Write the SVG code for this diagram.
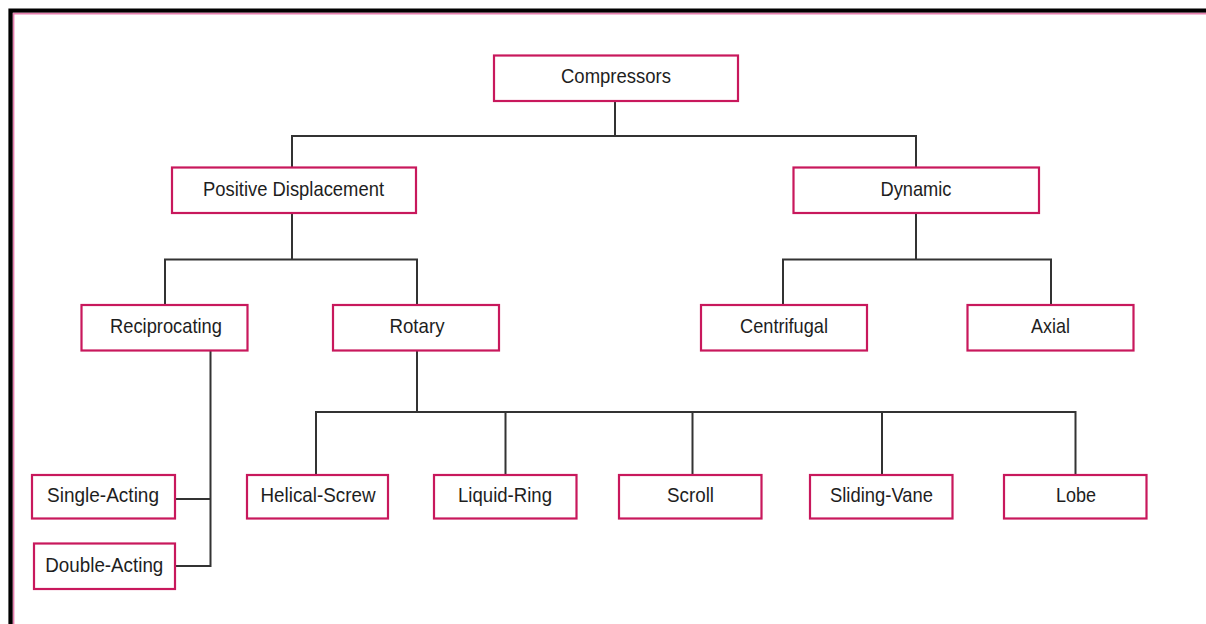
<svg xmlns="http://www.w3.org/2000/svg" width="1206" height="624" viewBox="0 0 1206 624">
<style>
.box{fill:#fff;stroke:#c8185c;stroke-width:2.2}
.lbl{font-family:"Liberation Sans",Arial,sans-serif;font-size:21px;fill:#1e1e1e;text-anchor:middle}
.con{fill:none;stroke:#333;stroke-width:2}
</style>
<rect width="1206" height="624" fill="#fff"/>
<path d="M10.6,624 V10.6 H1206" fill="none" stroke="#000" stroke-width="4.4"/>
<path d="M13.6,624 V13.6 H1206" fill="none" stroke="#e67fae" stroke-width="1.6"/>
<g id="connectors">
<path class="con" d="M615,101 V136 M292,167 V136 H916 V167"/>
<path class="con" d="M292,213 V259.5 M165,305 V259.5 H417 V305"/>
<path class="con" d="M916,213 V259.5 M783,305 V259.5 H1051 V305"/>
<path class="con" d="M210.5,351 V566 H175 M175,499 H210.5"/>
<path class="con" d="M417,351 V412 M316,475 V412 H1075.5 V475 M505.5,412 V475 M692.5,412 V475 M882,412 V475"/>
</g>
<g id="n-compressors"><rect class="box" x="494" y="55.5" width="244" height="45.5"/><text class="lbl" x="616" y="82.5" textLength="110" lengthAdjust="spacingAndGlyphs">Compressors</text></g>
<g id="n-positive"><rect class="box" x="172" y="167.5" width="244" height="45.5"/><text class="lbl" x="293.5" y="195.5" textLength="181" lengthAdjust="spacingAndGlyphs">Positive Displacement</text></g>
<g id="n-dynamic"><rect class="box" x="793.5" y="167.5" width="245.5" height="45.5"/><text class="lbl" x="916" y="195.5" textLength="71" lengthAdjust="spacingAndGlyphs">Dynamic</text></g>
<g id="n-reciprocating"><rect class="box" x="81.5" y="305" width="166" height="45.5"/><text class="lbl" x="166" y="332.5" textLength="112" lengthAdjust="spacingAndGlyphs">Reciprocating</text></g>
<g id="n-rotary"><rect class="box" x="333" y="305" width="166" height="45.5"/><text class="lbl" x="417" y="332.5" textLength="55" lengthAdjust="spacingAndGlyphs">Rotary</text></g>
<g id="n-centrifugal"><rect class="box" x="701" y="305" width="166" height="45.5"/><text class="lbl" x="784" y="332.5" textLength="88" lengthAdjust="spacingAndGlyphs">Centrifugal</text></g>
<g id="n-axial"><rect class="box" x="967.5" y="305" width="166" height="45.5"/><text class="lbl" x="1050.5" y="332.5" textLength="39" lengthAdjust="spacingAndGlyphs">Axial</text></g>
<g id="n-single"><rect class="box" x="32" y="475" width="143" height="43.5"/><text class="lbl" x="103" y="501.5" textLength="112" lengthAdjust="spacingAndGlyphs">Single-Acting</text></g>
<g id="n-double"><rect class="box" x="34" y="543.5" width="141" height="45.5"/><text class="lbl" x="104.3" y="571.5" textLength="118" lengthAdjust="spacingAndGlyphs">Double-Acting</text></g>
<g id="n-helical"><rect class="box" x="247" y="475" width="141" height="43.5"/><text class="lbl" x="318" y="501.5" textLength="115" lengthAdjust="spacingAndGlyphs">Helical-Screw</text></g>
<g id="n-liquid"><rect class="box" x="434" y="475" width="142.5" height="43.5"/><text class="lbl" x="505" y="501.5" textLength="94" lengthAdjust="spacingAndGlyphs">Liquid-Ring</text></g>
<g id="n-scroll"><rect class="box" x="619" y="475" width="142.5" height="43.5"/><text class="lbl" x="690.5" y="501.5" textLength="47" lengthAdjust="spacingAndGlyphs">Scroll</text></g>
<g id="n-sliding"><rect class="box" x="810" y="475" width="142.5" height="43.5"/><text class="lbl" x="881.5" y="501.5" textLength="103" lengthAdjust="spacingAndGlyphs">Sliding-Vane</text></g>
<g id="n-lobe"><rect class="box" x="1004" y="475" width="142.5" height="43.5"/><text class="lbl" x="1076" y="501.5" textLength="40" lengthAdjust="spacingAndGlyphs">Lobe</text></g>
</svg>
